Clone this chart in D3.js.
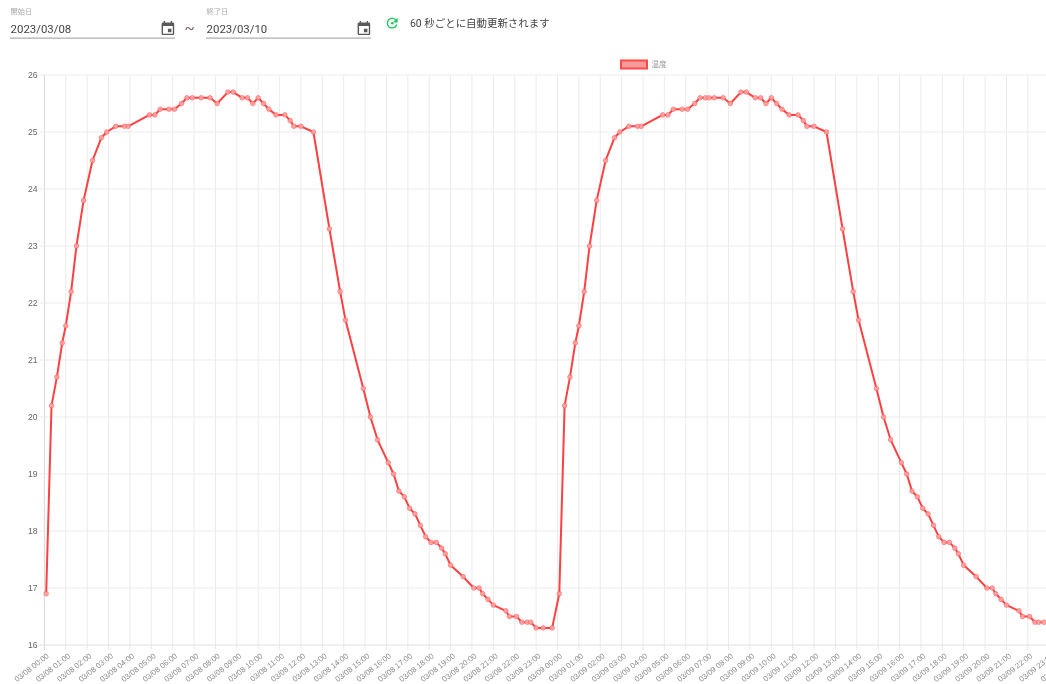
<!DOCTYPE html>
<html lang="ja">
<head>
<meta charset="utf-8">
<script src="https://cdn.jsdelivr.net/npm/d3@7"></script>
<style>
html,body{margin:0;padding:0;background:#fff;overflow:hidden}
svg{display:block;filter:blur(0.4px)}
</style>
</head>
<body>
<div id="chart"></div>
<script>
// minutes after 03/08 00:00 and temperature readings
const day1Minutes = [5,20,35,50,60,75,90,110,135,160,175,200,225,235,295,310,325,350,365,385,400,415,440,465,485,515,530,555,570,585,600,615,630,650,675,690,700,720,755,800,830,845,895,915,935,965,980,995,1010,1025,1040,1055,1070,1085,1100,1115,1125,1140,1175,1205,1220,1230,1245,1260,1295,1305,1325,1340,1355,1365,1380,1400,1425];
const day1Values = [16.9,20.2,20.7,21.3,21.6,22.2,23.0,23.8,24.5,24.9,25.0,25.1,25.1,25.1,25.3,25.3,25.4,25.4,25.4,25.5,25.6,25.6,25.6,25.6,25.5,25.7,25.7,25.6,25.6,25.5,25.6,25.5,25.4,25.3,25.3,25.2,25.1,25.1,25.0,23.3,22.2,21.7,20.5,20.0,19.6,19.2,19.0,18.7,18.6,18.4,18.3,18.1,17.9,17.8,17.8,17.7,17.6,17.4,17.2,17.0,17.0,16.9,16.8,16.7,16.6,16.5,16.5,16.4,16.4,16.4,16.3,16.3,16.3];
const day2Minutes = [1445,1460,1475,1490,1500,1515,1530,1550,1575,1600,1615,1640,1665,1675,1735,1750,1765,1790,1805,1825,1840,1855,1865,1880,1905,1925,1955,1970,1995,2010,2025,2040,2055,2070,2090,2115,2130,2140,2160,2195,2240,2270,2285,2335,2355,2375,2405,2420,2435,2450,2465,2480,2495,2510,2525,2540,2555,2565,2580,2615,2645,2660,2670,2685,2700,2735,2745,2765,2780,2790,2805];
const day2Values = [16.9,20.2,20.7,21.3,21.6,22.2,23.0,23.8,24.5,24.9,25.0,25.1,25.1,25.1,25.3,25.3,25.4,25.4,25.4,25.5,25.6,25.6,25.6,25.6,25.6,25.5,25.7,25.7,25.6,25.6,25.5,25.6,25.5,25.4,25.3,25.3,25.2,25.1,25.1,25.0,23.3,22.2,21.7,20.5,20.0,19.6,19.2,19.0,18.7,18.6,18.4,18.3,18.1,17.9,17.8,17.8,17.7,17.6,17.4,17.2,17.0,17.0,16.9,16.8,16.7,16.6,16.5,16.5,16.4,16.4,16.4];
const yTicks = [16,17,18,19,20,21,22,23,24,25,26];
const seriesName = "温度";
const startLabel = "開始日", endLabel = "終了日";
const startDate = "2023/03/08", endDate = "2023/03/10";
const refreshNote = "60 秒ごとに自動更新されます";

const W = 1046, H = 684;
const t0 = Date.UTC(2023, 2, 8);
const t1 = Date.UTC(2023, 2, 10);
const minuteToDate = m => new Date(t0 + m * 60000);
const points = [
  ...day1Minutes.map((m, i) => ({t: minuteToDate(m), v: day1Values[i]})),
  ...day2Minutes.map((m, i) => ({t: minuteToDate(m), v: day2Values[i]}))
];

const x = d3.scaleUtc().domain([new Date(t0), new Date(t1)]).range([44.4, 1070.6]);
const y = d3.scaleLinear().domain([16, 26]).range([645, 75]);
const fmt = d3.utcFormat("%m/%d %H:%M");

const svg = d3.select("#chart").append("svg").attr("width", W).attr("height", H);
const UI = "Roboto, 'Noto Sans CJK JP', sans-serif";
const CHART = "'Liberation Sans', 'Noto Sans CJK JP', sans-serif";

// --- header controls
const calPath = "M17 12h-5v5h5v-5zM16 1v2H8V1H6v2H5c-1.11 0-1.99.9-1.99 2L3 19c0 1.1.89 2 2 2h14c1.1 0 2-.9 2-2V5c0-1.1-.9-2-2-2h-1V1h-2zm3 18H5V8h14v11z";
[[10, startLabel, startDate], [206, endLabel, endDate]].forEach(([px, lab, val]) => {
  const g = svg.append("g").attr("transform", `translate(${px},0)`);
  g.append("text").attr("x", 0.6).attr("y", 14).attr("font-family", UI).attr("font-size", 7.2).attr("fill", "#aaa").text(lab);
  g.append("text").attr("x", 0.6).attr("y", 32.5).attr("font-family", UI).attr("font-size", 11.4).attr("fill", "#444").text(val);
  g.append("rect").attr("x", 0).attr("y", 37.6).attr("width", 165).attr("height", 1).attr("fill", "#9a9a9a");
  g.append("path").attr("d", calPath).attr("fill", "#5a5a5a").attr("transform", "translate(149.5,20.4) scale(0.7)");
});
svg.append("text").attr("x", 184.5).attr("y", 33).attr("font-family", UI).attr("font-size", 15).attr("fill", "#7a5a78").text("~");
svg.append("path")
  .attr("d", "M17.65 6.35C16.2 4.9 14.21 4 12 4c-4.42 0-7.99 3.58-7.99 8s3.57 8 7.99 8c3.73 0 6.84-2.55 7.73-6h-2.08c-.82 2.33-3.04 4-5.65 4-3.31 0-6-2.69-6-6s2.69-6 6-6c1.66 0 3.14.69 4.22 1.78L13 11h7V4l-2.35 2.35z")
  .attr("fill", "#22c55e").attr("transform", "translate(384,15) scale(0.68)");
svg.append("circle").attr("cx", 392.2).attr("cy", 23.2).attr("r", 1.3).attr("fill", "#22c55e");
svg.append("text").attr("x", 410).attr("y", 26.8).attr("font-family", UI).attr("font-size", 10.45).attr("fill", "#444").text(refreshNote);

// --- legend
svg.append("rect").attr("x", 621).attr("y", 60.5).attr("width", 26).attr("height", 8)
  .attr("fill", "#ff9a9a").attr("stroke", "#ff4a4a").attr("stroke-width", 2);
svg.append("text").attr("x", 651.5).attr("y", 66.5).attr("font-family", CHART).attr("font-size", 7.5).attr("fill", "#999").text(seriesName);

// --- grid
const hours = d3.utcHour.range(new Date(t0), new Date(t1 + 1));
svg.append("g").selectAll("line").data(hours).join("line")
  .attr("x1", d => x(d)).attr("x2", d => x(d)).attr("y1", 75).attr("y2", 650)
  .attr("stroke", (d, i) => i === 0 ? "#d8d8d8" : "#ebebeb").attr("stroke-width", 1);
svg.append("g").selectAll("line").data(yTicks).join("line")
  .attr("x1", 39.5).attr("x2", W).attr("y1", d => y(d)).attr("y2", d => y(d))
  .attr("stroke", d => d === 16 ? "#e0e0e0" : "#ebebeb").attr("stroke-width", 1);

// --- axis labels
const yAxis = d3.axisLeft(y).tickValues(yTicks).tickSize(0).tickPadding(0).tickFormat(d3.format("d"));
svg.append("g").attr("transform", "translate(37.5,0)").call(yAxis)
  .call(g => g.select(".domain").remove())
  .call(g => g.selectAll("text").attr("font-family", CHART).attr("font-size", 8.6).attr("fill", "#666"));

const xAxis = d3.axisBottom(x).tickValues(hours).tickSize(0).tickPadding(0).tickFormat(fmt);
svg.append("g").attr("transform", "translate(0,645)").call(xAxis)
  .call(g => g.select(".domain").remove())
  .call(g => g.selectAll("text")
    .attr("font-family", CHART).attr("font-size", 7.8).attr("fill", "#888")
    .attr("text-anchor", "end").attr("dy", 0).attr("y", 0)
    .attr("transform", "translate(4.6,12) rotate(-38)"));

// --- series
const line = d3.line().x(d => x(d.t)).y(d => y(d.v));
svg.append("path").datum(points).attr("d", line)
  .attr("fill", "none").attr("stroke", "#ff4040").attr("stroke-width", 2).attr("stroke-linejoin", "round");
svg.append("g").selectAll("circle").data(points).join("circle")
  .attr("cx", d => x(d.t)).attr("cy", d => y(d.v)).attr("r", 2.3)
  .attr("fill", "rgba(255,165,165,0.9)").attr("stroke", "rgba(255,90,90,0.6)").attr("stroke-width", 1);
</script>
</body>
</html>
